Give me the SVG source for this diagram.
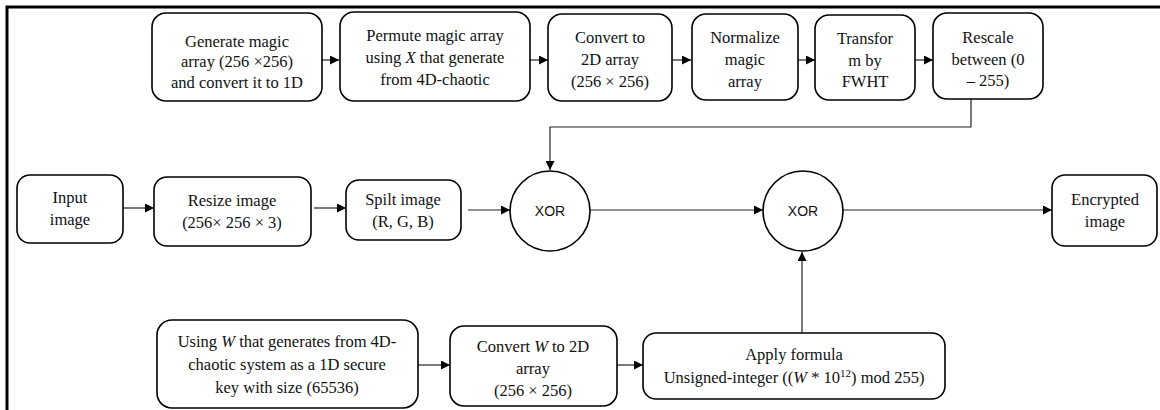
<svg xmlns="http://www.w3.org/2000/svg" width="1160" height="410" viewBox="0 0 1160 410">
<style>
.box{fill:#fff;stroke:#000;stroke-width:1.6}
.t{font-family:"Liberation Serif","Times New Roman",serif;font-size:16.5px;fill:#111;text-anchor:middle}
.x{font-family:"Liberation Sans",Arial,sans-serif;font-size:14px;fill:#111;text-anchor:middle}
.c{fill:none;stroke:#222;stroke-width:1.2}
.i{font-style:italic}
</style>
<defs>
<marker id="ah" viewBox="0 0 10 10" refX="10" refY="5" markerWidth="9" markerHeight="9" markerUnits="userSpaceOnUse" orient="auto">
<path d="M0,0 L10,5 L0,10 z" fill="#000"/>
</marker>
</defs>
<rect width="1160" height="410" fill="#fff"/>
<g id="frame">
<path d="M7,410 V7 H1160" fill="none" stroke="#000" stroke-width="3"/>
</g>
<g id="connectors">
<line class="c" x1="322" y1="60" x2="339" y2="60" marker-end="url(#ah)"/>
<line class="c" x1="530" y1="60" x2="548" y2="60" marker-end="url(#ah)"/>
<line class="c" x1="672" y1="60" x2="691" y2="60" marker-end="url(#ah)"/>
<line class="c" x1="798" y1="60" x2="815" y2="60" marker-end="url(#ah)"/>
<line class="c" x1="915" y1="60" x2="933" y2="60" marker-end="url(#ah)"/>
<path class="c" d="M971,99 V127 H550 V170" stroke-width="1" marker-end="url(#ah)"/>
<line class="c" x1="123" y1="208" x2="154" y2="208" marker-end="url(#ah)"/>
<line class="c" x1="314" y1="208" x2="346" y2="208" marker-end="url(#ah)"/>
<line class="c" x1="468" y1="210" x2="510" y2="210" marker-end="url(#ah)"/>
<line class="c" x1="590" y1="210" x2="763" y2="210" marker-end="url(#ah)"/>
<line class="c" x1="843" y1="210" x2="1052" y2="210" marker-end="url(#ah)"/>
<line class="c" x1="418" y1="365" x2="450" y2="365" marker-end="url(#ah)"/>
<line class="c" x1="617" y1="365" x2="643" y2="365" marker-end="url(#ah)"/>
<line class="c" x1="802" y1="333" x2="802" y2="252" stroke-width="1" marker-end="url(#ah)"/>
</g>
<g id="n-generate">
<rect class="box" x="152" y="13" width="170" height="88" rx="14"/>
<text class="t" x="237" y="47">Generate magic</text>
<text class="t" x="237" y="67">array (256 ×256)</text>
<text class="t" x="237" y="88">and convert it to 1D</text>
</g>
<g id="n-permute">
<rect class="box" x="340" y="12" width="190" height="89" rx="14"/>
<text class="t" x="435" y="41">Permute magic array</text>
<text class="t" x="435" y="63">using <tspan class="i">X</tspan> that generate</text>
<text class="t" x="435" y="85">from 4D-chaotic</text>
</g>
<g id="n-convert2d">
<rect class="box" x="548" y="14" width="124" height="87" rx="14"/>
<text class="t" x="610" y="43">Convert to</text>
<text class="t" x="610" y="65">2D array</text>
<text class="t" x="610" y="87">(256 × 256)</text>
</g>
<g id="n-normalize">
<rect class="box" x="692" y="14" width="106" height="86" rx="14"/>
<text class="t" x="745" y="43">Normalize</text>
<text class="t" x="745" y="65">magic</text>
<text class="t" x="745" y="87">array</text>
</g>
<g id="n-fwht">
<rect class="box" x="815" y="15" width="100" height="85" rx="14"/>
<text class="t" x="865" y="44">Transfor</text>
<text class="t" x="865" y="66">m by</text>
<text class="t" x="865" y="87">FWHT</text>
</g>
<g id="n-rescale">
<rect class="box" x="933" y="13" width="110" height="86" rx="14"/>
<text class="t" x="988" y="43">Rescale</text>
<text class="t" x="988" y="65">between (0</text>
<text class="t" x="988" y="86">– 255)</text>
</g>
<g id="n-input">
<rect class="box" x="17" y="175" width="106" height="68" rx="13"/>
<text class="t" x="70" y="203">Input</text>
<text class="t" x="70" y="225">image</text>
</g>
<g id="n-resize">
<rect class="box" x="154" y="177" width="157" height="69" rx="13"/>
<text class="t" x="232" y="206">Resize image</text>
<text class="t" x="232" y="228">(256× 256 × 3)</text>
</g>
<g id="n-split">
<rect class="box" x="346" y="180" width="115" height="60" rx="13"/>
<text class="t" x="403" y="205">Spilt image</text>
<text class="t" x="403" y="227">(R, G, B)</text>
</g>
<g id="n-xor1">
<circle class="box" cx="550" cy="211" r="40"/>
<text class="x" x="550" y="216">XOR</text>
</g>
<g id="n-xor2">
<circle class="box" cx="803" cy="211" r="40"/>
<text class="x" x="803" y="216">XOR</text>
</g>
<g id="n-encrypted">
<rect class="box" x="1052" y="175" width="105" height="71" rx="13"/>
<text class="t" x="1105" y="205">Encrypted</text>
<text class="t" x="1105" y="227">image</text>
</g>
<g id="n-using">
<rect class="box" x="157" y="320" width="261" height="88" rx="15"/>
<text class="t" x="287" y="347">Using <tspan class="i">W</tspan> that generates from 4D-</text>
<text class="t" x="287" y="370">chaotic system as a 1D secure</text>
<text class="t" x="287" y="393">key with size (65536)</text>
</g>
<g id="n-convertw">
<rect class="box" x="450" y="326" width="167" height="80" rx="14"/>
<text class="t" x="533" y="352">Convert <tspan class="i">W</tspan> to 2D</text>
<text class="t" x="533" y="374">array</text>
<text class="t" x="533" y="396">(256 × 256)</text>
</g>
<g id="n-apply">
<rect class="box" x="643" y="333" width="302" height="66" rx="13"/>
<text class="t" x="794" y="360">Apply formula</text>
<text class="t" x="794" y="383">Unsigned-integer ((<tspan class="i">W</tspan> * 10<tspan font-size="11" dy="-6">12</tspan><tspan dy="6">) mod 255)</tspan></text>
</g>
</svg>
